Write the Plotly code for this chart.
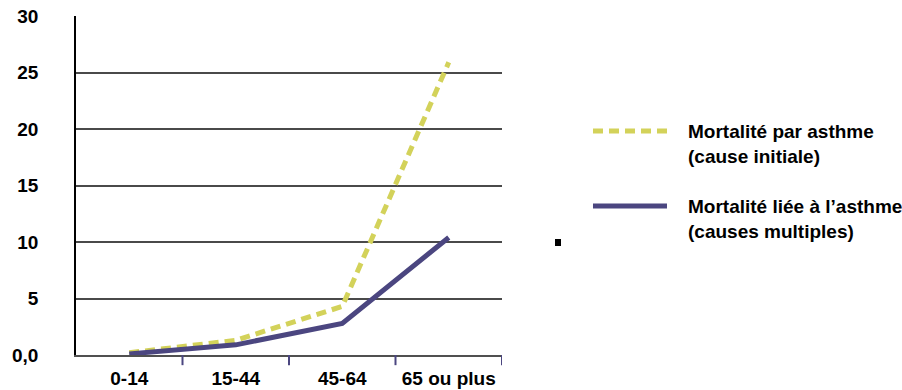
import plotly.graph_objects as go

age_groups = ["0-14", "15-44", "45-64", "65 ou plus"]
cause_initiale = [0.2, 1.3, 4.3, 25.9]
causes_multiples = [0.1, 0.9, 2.8, 10.4]

y_ticks = [0, 5, 10, 15, 20, 25, 30]
y_labels = ["0,0", "5", "10", "15", "20", "25", "30"]

legend_labels = ["Mortalité par asthme<br>(cause initiale)",
                 "Mortalité liée à l’asthme<br>(causes multiples)"]

font_family = "Liberation Sans Narrow, Arial Narrow, Liberation Sans, Arial"
yellow = "#d3d25a"
purple = "#4b4680"

fig = go.Figure()
fig.add_trace(go.Scatter(
    x=age_groups, y=cause_initiale, mode="lines",
    line=dict(color=yellow, width=5, dash="10px,6px"),
))
fig.add_trace(go.Scatter(
    x=age_groups, y=causes_multiples, mode="lines",
    line=dict(color=purple, width=5),
))

# légende dessinée à la main (trait à gauche, texte sur deux lignes)
for i, (label, color, dash) in enumerate(zip(legend_labels, [yellow, purple], ["10px,6px", "solid"])):
    y = 0.661 - i * 0.2215
    fig.add_shape(type="line", xref="paper", yref="paper",
                  x0=1.2136, x1=1.3873, y0=y, y1=y,
                  line=dict(color=color, width=5, dash=dash))
    fig.add_annotation(xref="paper", yref="paper", x=1.432, y=y + 0.035,
                       xanchor="left", yanchor="top", align="left",
                       text="<b>%s</b>" % label, showarrow=False,
                       font=dict(family=font_family, size=19, color="black"))

# petit carré noir à droite du graphique
fig.add_shape(type="rect", xref="paper", yref="paper",
              x0=1.1244, x1=1.1385, y0=0.3215, y1=0.3422,
              fillcolor="black", line_width=0)

fig.update_layout(
    width=902, height=390,
    margin=dict(l=76, r=400, t=16, b=35, autoexpand=False),
    plot_bgcolor="white", paper_bgcolor="white",
    font=dict(family=font_family, size=19, color="black"),
    showlegend=False,
)
fig.update_xaxes(
    type="category", range=[-0.5, 3.5], automargin=False,
    showgrid=False, showline=True, linecolor="#505050", linewidth=2,
    ticks="", ticklabelstandoff=5, tickfont=dict(family=font_family, size=19),
    tickprefix="<b>", ticksuffix="</b>",
)
fig.update_yaxes(
    range=[0, 30], tickvals=y_ticks, ticktext=["<b>%s</b>" % t for t in y_labels],
    automargin=False,
    showgrid=True, gridcolor="#4a4a4a", gridwidth=2,
    showline=True, linecolor="black", linewidth=1.5,
    zeroline=False, ticks="", ticklabelstandoff=32,
    tickfont=dict(family=font_family, size=19),
)
# séparateurs de catégories sous l'axe
for k in range(4):
    fig.add_shape(type="line", xref="x", yref="paper",
                  x0=k + 0.5, x1=k + 0.5, y0=0, y1=-0.03,
                  line=dict(color=purple, width=2))

fig.write_html("out.html", config={"displayModeBar": False},
               post_script="document.body.style.margin='0';")
